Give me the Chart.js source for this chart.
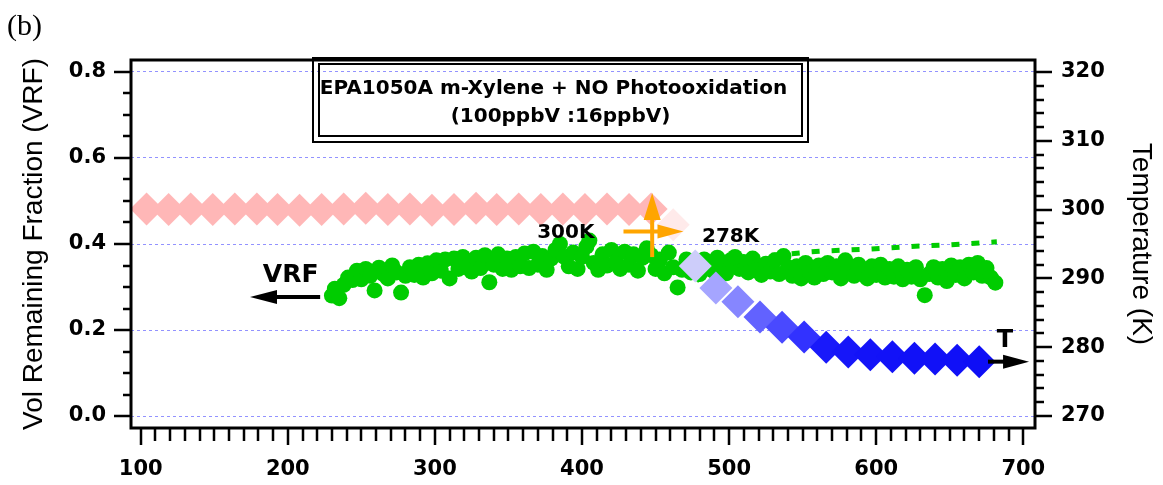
<!DOCTYPE html>
<html>
<head>
<meta charset="utf-8">
<script src="https://cdn.jsdelivr.net/npm/chart.js@4.4.1/dist/chart.umd.min.js"></script>
<style>
  html, body { margin: 0; padding: 0; background: #ffffff; }
  canvas { display: block; }
</style>
</head>
<body>
<canvas id="chart" width="1163" height="485"></canvas>
<script>
// ---------- data ----------
// chamber temperature (K), right axis
const tempTime = [104, 119, 134, 149, 164, 179, 193, 208, 223, 238, 253, 268, 283, 298, 313, 328, 342, 357, 372, 387,
                  402, 417, 432, 447, 462, 477, 491, 506, 521, 536, 551, 566, 581, 596, 611, 626, 640, 655, 670];
const tempK = [300.1, 300.0, 300.1, 300.0, 300.1, 300.1, 300.0, 299.9, 300.0, 300.1, 300.2, 300.0, 300.1, 299.9, 300.0,
               300.2, 300.0, 300.1, 300.0, 300.1, 300.0, 300.1, 300.0, 300.1, 297.8, 291.8, 288.6, 286.6, 284.4, 282.9,
               281.5, 280.0, 279.3, 278.9, 278.6, 278.4, 278.3, 278.1, 277.9];

// volume remaining fraction, left axis
const vrfTime = [230, 232, 235, 238, 241, 244, 247, 250, 253, 256, 259, 262, 265, 268, 271, 274, 277, 280, 283, 286,
                 289, 292, 295, 298, 301, 304, 307, 310, 313, 316, 319, 322, 325, 328, 331, 334, 337, 340, 343, 346,
                 349, 352, 355, 358, 361, 364, 367, 370, 373, 376, 379, 382, 385, 388, 391, 394, 397, 400, 403, 405,
                 408, 411, 414, 417, 420, 423, 426, 429, 432, 435, 438, 441, 444, 447, 450, 453, 456, 459, 462, 465,
                 468, 471, 474, 477, 480, 483, 486, 489, 492, 495, 498, 501, 504, 507, 510, 513, 516, 519, 522, 525,
                 528, 531, 534, 537, 540, 543, 546, 549, 552, 555, 558, 561, 564, 567, 570, 573, 576, 579, 582, 585,
                 588, 591, 594, 597, 600, 603, 606, 609, 612, 615, 618, 621, 624, 627, 630, 633, 636, 639, 642, 645,
                 648, 651, 654, 657, 660, 663, 666, 669, 672, 675, 678, 681];
const vrfValue = [0.280, 0.296, 0.274, 0.305, 0.322, 0.316, 0.338, 0.318, 0.342, 0.326,
                  0.292, 0.345, 0.330, 0.320, 0.350, 0.334, 0.287, 0.326, 0.346, 0.328,
                  0.352, 0.322, 0.355, 0.332, 0.362, 0.338, 0.364, 0.320, 0.366, 0.342,
                  0.370, 0.346, 0.336, 0.368, 0.344, 0.374, 0.311, 0.352, 0.376, 0.342,
                  0.366, 0.340, 0.370, 0.348, 0.378, 0.344, 0.382, 0.352, 0.372, 0.340,
                  0.366, 0.386, 0.400, 0.370, 0.348, 0.380, 0.342, 0.370, 0.394, 0.408,
                  0.356, 0.340, 0.376, 0.350, 0.386, 0.358, 0.342, 0.382, 0.352, 0.376,
                  0.338, 0.368, 0.390, 0.374, 0.342, 0.364, 0.332, 0.380, 0.346, 0.299,
                  0.340, 0.364, 0.334, 0.358, 0.330, 0.364, 0.344, 0.338, 0.368, 0.348,
                  0.332, 0.362, 0.370, 0.342, 0.358, 0.334, 0.366, 0.340, 0.328, 0.354,
                  0.336, 0.362, 0.330, 0.372, 0.346, 0.326, 0.348, 0.320, 0.356, 0.334,
                  0.322, 0.350, 0.330, 0.356, 0.334, 0.348, 0.320, 0.362, 0.338, 0.326,
                  0.352, 0.332, 0.320, 0.348, 0.328, 0.352, 0.322, 0.342, 0.324, 0.348,
                  0.318, 0.340, 0.324, 0.346, 0.318, 0.281, 0.330, 0.346, 0.322, 0.342,
                  0.314, 0.350, 0.328, 0.346, 0.320, 0.352, 0.334, 0.356, 0.326, 0.344,
                  0.322, 0.310];

// temperature-corrected VRF trend (dashed)
const fitTime = [478, 490, 500, 510, 522, 538, 553, 566, 580, 594, 608, 622, 635, 649, 663, 682];
const fitValue = [0.315, 0.335, 0.352, 0.364, 0.372, 0.376, 0.381, 0.384, 0.386, 0.388, 0.391, 0.394, 0.396, 0.398, 0.401, 0.405];

// axis ticks
const xTickValues = [100, 200, 300, 400, 500, 600, 700];
const vrfTickValues = [0.0, 0.2, 0.4, 0.6, 0.8];
const tempTickValues = [270, 280, 290, 300, 310, 320];

const panelLabel = '(b)';
const boxLines = ['EPA1050A m-Xylene + NO Photooxidation', '(100ppbV :16ppbV)'];

// ---------- styling helpers ----------
const BOLD = 'DejaVu Sans';
const tempStops = [
  [277.0, [10, 10, 245]], [280.0, [25, 25, 250]], [281.5, [50, 50, 255]], [283.0, [75, 75, 255]],
  [284.5, [100, 100, 255]], [286.5, [132, 132, 255]], [288.6, [165, 165, 255]], [291.8, [205, 205, 250]],
  [297.8, [255, 234, 234]], [299.5, [255, 184, 184]], [301.0, [255, 182, 182]]
];
function tempColor(t) {
  if (t <= tempStops[0][0]) return `rgb(${tempStops[0][1].join(',')})`;
  for (let i = 1; i < tempStops.length; i++) {
    const [t1, c1] = tempStops[i];
    const [t0, c0] = tempStops[i - 1];
    if (t <= t1) {
      const f = (t - t0) / (t1 - t0);
      const c = c0.map((v, k) => Math.round(v + (c1[k] - v) * f));
      return `rgb(${c.join(',')})`;
    }
  }
  return `rgb(${tempStops[tempStops.length - 1][1].join(',')})`;
}

function arrow(ctx, x1, y1, x2, y2, color, lw, headLen, headHalf) {
  const dx = x2 - x1, dy = y2 - y1, len = Math.hypot(dx, dy);
  const ux = dx / len, uy = dy / len;
  const bx = x2 - ux * headLen, by = y2 - uy * headLen;
  ctx.save();
  ctx.strokeStyle = color;
  ctx.fillStyle = color;
  ctx.lineWidth = lw;
  ctx.beginPath();
  ctx.moveTo(x1, y1);
  ctx.lineTo(bx + ux * 2, by + uy * 2);
  ctx.stroke();
  ctx.beginPath();
  ctx.moveTo(x2, y2);
  ctx.lineTo(bx - uy * headHalf, by + ux * headHalf);
  ctx.lineTo(bx + uy * headHalf, by - ux * headHalf);
  ctx.closePath();
  ctx.fill();
  ctx.restore();
}

// frame, outward tick marks, annotations
const decorPlugin = {
  id: 'decor',
  afterDraw(chart) {
    const { ctx, chartArea: a, scales } = chart;
    const xs = scales.x, yv = scales.y, yt = scales.yT;
    ctx.save();

    // tick marks
    ctx.strokeStyle = '#000';
    ctx.lineWidth = 2.5;
    ctx.beginPath();
    for (let v = 100; v <= 700; v += 10) {
      const p = Math.round(xs.getPixelForValue(v));
      const L = v % 100 === 0 ? 17 : 13;
      ctx.moveTo(p, a.bottom); ctx.lineTo(p, a.bottom + L);
    }
    for (let k = 0; k <= 16; k++) {
      const p = Math.round(yv.getPixelForValue(k * 0.05));
      const L = k % 4 === 0 ? 17 : 8;
      ctx.moveTo(a.left, p); ctx.lineTo(a.left - L, p);
    }
    for (let t = 270; t <= 320; t += 2) {
      const p = Math.round(yt.getPixelForValue(t));
      const L = t % 10 === 0 ? 17 : 9;
      ctx.moveTo(a.right, p); ctx.lineTo(a.right + L, p);
    }
    ctx.stroke();

    // plot frame
    ctx.lineWidth = 3;
    ctx.strokeRect(a.left, a.top, a.right - a.left, a.bottom - a.top);

    // panel label
    ctx.fillStyle = '#000';
    ctx.font = '30px "Liberation Serif"';
    ctx.textAlign = 'left';
    ctx.textBaseline = 'alphabetic';
    ctx.fillText(panelLabel, 7, 35);

    // title box (double border)
    const bx = a.left + 181, by = a.top - 3, bw = 497, bh = 86;
    ctx.lineWidth = 2;
    ctx.strokeRect(bx + 1, by + 1, bw - 2, bh - 2);
    ctx.strokeRect(bx + 7, by + 7, bw - 14, bh - 14);
    ctx.font = `bold 20px "${BOLD}"`;
    ctx.textAlign = 'center';
    ctx.fillText(boxLines[0], bx + bw / 2 - 7, by + 37);
    ctx.fillText(boxLines[1], bx + bw / 2, by + 65);

    // series labels and arrows
    ctx.textAlign = 'left';
    ctx.font = `bold 25px "${BOLD}"`;
    ctx.fillText('VRF', xs.getPixelForValue(183), yv.getPixelForValue(0.312));
    arrow(ctx, xs.getPixelForValue(222), yv.getPixelForValue(0.277),
          xs.getPixelForValue(174.3), yv.getPixelForValue(0.277), '#000', 4, 27, 7);

    ctx.font = `bold 24px "${BOLD}"`;
    ctx.fillText('T', xs.getPixelForValue(682), yv.getPixelForValue(0.161));
    arrow(ctx, xs.getPixelForValue(676), yt.getPixelForValue(277.9),
          xs.getPixelForValue(703.9), yt.getPixelForValue(277.9), '#000', 4, 26, 7);

    ctx.font = `bold 20px "${BOLD}"`;
    ctx.fillText('300K', xs.getPixelForValue(369.5), yv.getPixelForValue(0.413));
    ctx.fillText('278K', xs.getPixelForValue(481.6), yv.getPixelForValue(0.405));

    // temperature step marker
    const orange = '#FFA500';
    arrow(ctx, xs.getPixelForValue(447.7), yt.getPixelForValue(293.1),
          xs.getPixelForValue(447.7), yt.getPixelForValue(302.4), orange, 4, 27, 8.5);
    arrow(ctx, xs.getPixelForValue(428.2), yt.getPixelForValue(296.8),
          xs.getPixelForValue(469), yt.getPixelForValue(296.8), orange, 4, 26, 7);

    ctx.restore();
  }
};

const tickFont = { family: BOLD, weight: 'bold', size: 21 };
const titleFont = { family: 'Liberation Sans', weight: 'normal', size: 28 };

new Chart(document.getElementById('chart'), {
  type: 'scatter',
  data: {
    datasets: [
      {
        label: 'Temperature',
        yAxisID: 'yT',
        data: tempTime.map((t, i) => ({ x: t, y: tempK[i] })),
        pointStyle: 'rectRot',
        pointRadius: 16.5,
        borderWidth: 0,
        backgroundColor: c => tempColor(c.raw ? c.raw.y : 300),
        order: 0
      },
      {
        label: 'VRF trend',
        yAxisID: 'y',
        data: fitTime.map((t, i) => ({ x: t, y: fitValue[i] })),
        showLine: true,
        pointRadius: 0,
        borderColor: 'rgb(0,204,0)',
        borderWidth: 5,
        borderDash: [8, 12],
        borderCapStyle: 'butt',
        tension: 0,
        order: 1
      },
      {
        label: 'VRF',
        yAxisID: 'y',
        data: vrfTime.map((t, i) => ({ x: t, y: vrfValue[i] })),
        pointStyle: 'circle',
        pointRadius: 8,
        borderWidth: 0,
        backgroundColor: 'rgb(0,204,0)',
        order: 2
      }
    ]
  },
  options: {
    responsive: false,
    animation: false,
    devicePixelRatio: 1,
    layout: { padding: { top: 60, left: 0, right: 0, bottom: 0 } },
    plugins: { legend: { display: false }, tooltip: { enabled: false } },
    scales: {
      x: {
        type: 'linear',
        position: 'bottom',
        min: 93.41,
        max: 707.95,
        afterBuildTicks: s => { s.ticks = xTickValues.map(v => ({ value: v })); },
        afterFit: s => { s.height = 57; },
        grid: { display: false, drawTicks: false },
        border: { display: false },
        ticks: { font: tickFont, color: '#000', padding: 29, maxRotation: 0, autoSkip: false,
                 callback: v => String(v) }
      },
      y: {
        type: 'linear',
        position: 'left',
        min: -0.0279,
        max: 0.8279,
        afterBuildTicks: s => { s.ticks = vrfTickValues.map(v => ({ value: v })); },
        afterFit: s => { s.width = 131; },
        grid: { display: true, drawTicks: false, color: 'rgba(110,110,255,0.75)', lineWidth: 1 },
        border: { display: false, dash: [3, 3] },
        ticks: { font: tickFont, color: '#000', padding: 25, autoSkip: false,
                 callback: v => Number(v).toFixed(1) },
        title: { display: true, text: 'Vol Remaining Fraction (VRF)', font: titleFont, color: '#000',
                 padding: { top: 17, bottom: 0 } }
      },
      yT: {
        type: 'linear',
        position: 'right',
        min: 268.256,
        max: 321.744,
        afterBuildTicks: s => { s.ticks = tempTickValues.map(v => ({ value: v })); },
        afterFit: s => { s.width = 128; },
        grid: { display: false, drawTicks: false },
        border: { display: false },
        ticks: { font: tickFont, color: '#000', padding: 26, autoSkip: false,
                 callback: v => String(v) },
        title: { display: true, text: 'Temperature (K)', font: titleFont, color: '#000',
                 padding: { top: 5, bottom: 0 } }
      }
    }
  },
  plugins: [decorPlugin]
});
</script>
</body>
</html>
